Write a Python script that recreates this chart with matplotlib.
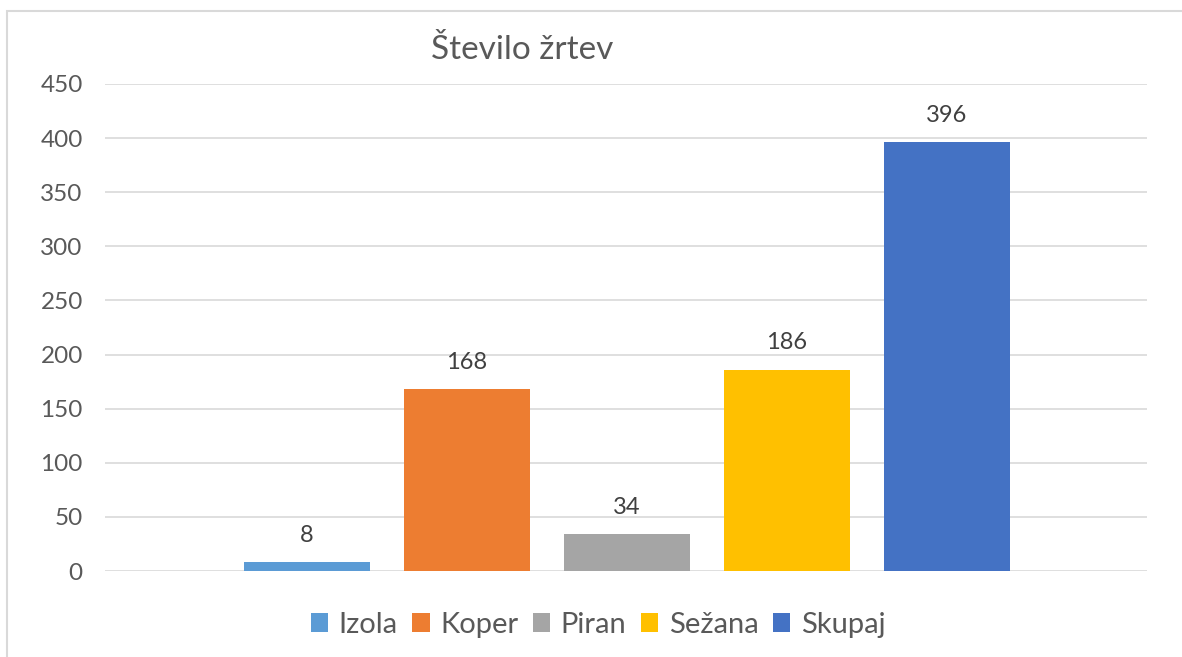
import matplotlib.pyplot as plt
from matplotlib.patches import Rectangle

plt.rcParams['font.family'] = ['Lato', 'DejaVu Sans']

kraji = ['Izola', 'Koper', 'Piran', 'Sežana', 'Skupaj']
zrtve = [8, 168, 34, 186, 396]
barve = ['#5B9BD5', '#ED7D31', '#A5A5A5', '#FFC000', '#4472C4']
yticks = [0, 50, 100, 150, 200, 250, 300, 350, 400, 450]

TEXT = '#595959'

fig = plt.figure(figsize=(11.82, 6.57), dpi=100)
ax = fig.add_axes([105 / 1182, 86 / 657, 1042 / 1182, 487 / 657])

pos = list(range(len(kraji)))
bars = ax.bar(pos, zrtve, width=0.79, color=barve, label=kraji, zorder=3)

for p, v in zip(pos, zrtve):
    ax.annotate(str(v), (p, v), xytext=(0, 12), textcoords='offset points',
                ha='center', va='bottom', fontsize=17, color='#404040')

ax.set_xlim(-1.2625, 5.25)
ax.set_ylim(0, 450)
ax.set_yticks(yticks)
ax.set_xticks([])
ax.yaxis.grid(True, color='#D9D9D9', linewidth=1.2, zorder=0)
for s in ax.spines.values():
    s.set_visible(False)
ax.tick_params(axis='y', length=0, pad=16, labelsize=17.5, labelcolor=TEXT)

fig.text(522 / 1182, 1 - 50 / 657, 'Število žrtev', ha='center', va='center',
         fontsize=24, color=TEXT)

ax.legend(handles=bars, labels=kraji, loc='center', bbox_to_anchor=(598 / 1182, 1 - 625 / 657),
          bbox_transform=fig.transFigure, ncol=5, frameon=False, fontsize=21,
          labelcolor=TEXT, handlelength=0.6, handleheight=0.6, handletextpad=0.35,
          columnspacing=0.5)

fig.patches.append(Rectangle((7 / 1182, -0.05), 1.1, 1 - 11 / 657 + 0.05,
                             transform=fig.transFigure, fill=False,
                             edgecolor='#D9D9D9', linewidth=1.5))

fig.savefig('out.png', dpi=100)
